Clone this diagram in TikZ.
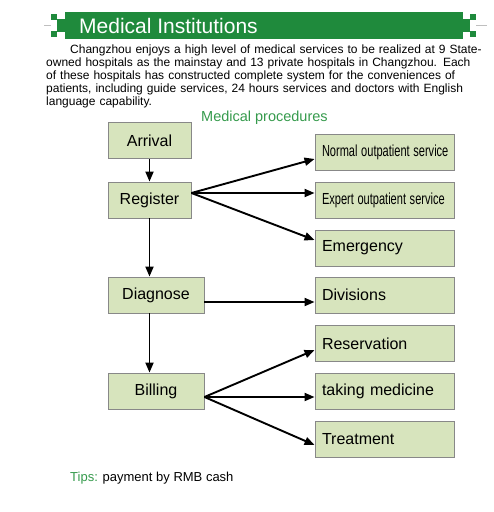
\documentclass[tikz,border=0pt]{standalone}
\usepackage{fontspec}
\setmainfont{Liberation Sans}
\usetikzlibrary{arrows.meta,calc}
\hyphenpenalty=10000
\exhyphenpenalty=0
\definecolor{hdrgreen}{HTML}{1F8A3C}
\definecolor{txtgreen}{HTML}{359A4C}
\definecolor{boxfill}{HTML}{D7E4BD}
\definecolor{boxline}{HTML}{888888}
\tikzset{
  stepbox/.style={draw=boxline, fill=boxfill, line width=0.9pt, minimum height=36pt, inner sep=0pt,
    font=\fontsize{16}{18}\selectfont},
  leftbox/.style={stepbox, minimum width=83pt},
  midbox/.style={stepbox, minimum width=96pt},
  rightbox/.style={stepbox, text width=125pt, inner xsep=7pt, align=left, minimum width=139pt},
  arr/.style={line width=1.9pt, -{Triangle[length=10pt,width=8pt]}},
}
\newcommand{\narrowtxt}[1]{\scalebox{0.69}[1]{#1}}
\begin{document}
\begin{tikzpicture}[x=1pt,y=-1pt]
\useasboundingbox (0,0) rectangle (494,512);
% header
\draw[black!25, line width=0.6pt] (44,25.5) -- (51,25.5);
\draw[black!25, line width=0.6pt] (476,25.5) -- (487,25.5);
\fill[hdrgreen] (51,14) rectangle (57,20);
\fill[hdrgreen] (51,31) rectangle (57,37);
\fill[hdrgreen] (57,19) rectangle (65,32);
\fill[hdrgreen] (65,12) rectangle (463,39);
\fill[hdrgreen] (463,19) rectangle (470,32);
\fill[hdrgreen] (470,14) rectangle (476,20);
\fill[hdrgreen] (470,31) rectangle (476,37);
\node[anchor=base west, inner sep=0pt, text=white, font=\fontsize{21}{24}\selectfont] (title) at (79,33) {Medical Institutions};
% paragraph
\node[anchor=north west, inner sep=0pt, text width=437pt, font=\fontsize{12}{13}\selectfont] (para) at (46,45)
 {\parindent=24pt\indent Changzhou enjoys a high level of medical services to be realized at 9 State-owned hospitals as the mainstay and 13 private hospitals in Changzhou. Each of these hospitals has constructed complete system for the conveniences of patients, including guide services, 24 hours services and doctors with English language capability.};
\node[anchor=base west, inner sep=0pt, text=txtgreen, font=\fontsize{14.5}{17}\selectfont] (proc) at (201,121) {Medical procedures};
% left column
\node[leftbox] (arrival) at (149.5,140.5) {Arrival};
\node[leftbox] (register) at (149.5,200) {Register};
\node[midbox] (diagnose) at (156,295) {Diagnose};
\node[midbox] (billing) at (156,391) {Billing};
% right column
\node[rightbox] (normal) at (384.5,152) {\narrowtxt{Normal outpatient service}};
\node[rightbox] (expert) at (384.5,200) {\narrowtxt{Expert outpatient service}};
\node[rightbox] (emerg) at (384.5,248) {Emergency};
\node[rightbox] (divis) at (384.5,295) {Divisions};
\node[rightbox] (reserv) at (384.5,343.5) {Reservation};
\node[rightbox] (taking) at (384.5,391) {taking medicine};
\node[rightbox] (treat) at (384.5,439.5) {Treatment};
% arrows
\draw[arr] (arrival.south) -- (register.north);
\draw[arr] (register.south) -- (register.south |- diagnose.north);
\draw[arr] (diagnose.south -| register.south) -- (billing.north -| register.south);
\coordinate (rf) at ([yshift=7pt]register.east);
\draw[arr] (rf) -- ([yshift=-7pt]normal.west);
\draw[arr] (rf) -- ([yshift=7pt]expert.west);
\draw[arr] (rf) -- ([yshift=8pt]emerg.west);
\draw[arr] ([yshift=-7pt]diagnose.east) -- ([yshift=-7pt]divis.west);
\coordinate (bf) at ([yshift=-6pt]billing.east);
\draw[arr] (bf) -- ([yshift=-6.5pt]reserv.west);
\draw[arr] (bf) -- ([yshift=-6pt]taking.west);
\draw[arr] (bf) -- ([yshift=-5.5pt]treat.west);
% tips
\node[anchor=base west, inner sep=0pt, font=\fontsize{13}{15}\selectfont] (tips) at (70,481) {\textcolor{txtgreen}{Tips:} payment by RMB cash};
\end{tikzpicture}
\end{document}
